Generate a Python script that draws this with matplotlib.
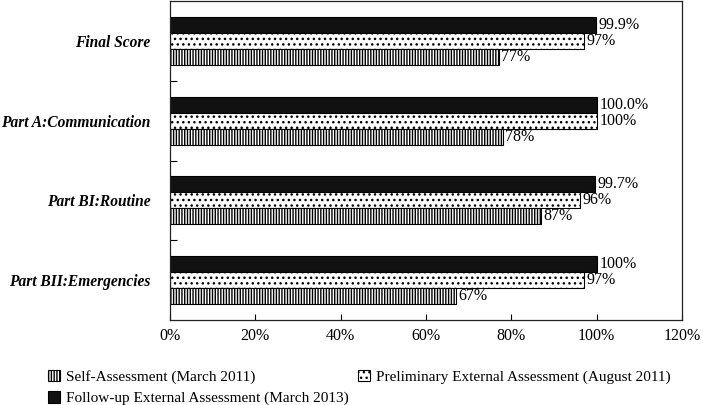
import numpy as np
import matplotlib
matplotlib.use("Agg")
import matplotlib.pyplot as plt
from matplotlib.patches import Patch

plt.rcParams['font.family'] = ['Liberation Serif', 'DejaVu Serif']
plt.rcParams['hatch.linewidth'] = 1.0

categories = ['Final Score', 'Part A:Communication', 'Part BI:Routine', 'Part BII:Emergencies']
self_vals = [77, 78, 87, 67]
prelim_vals = [97, 100, 96, 97]
follow_vals = [99.9, 100.0, 99.7, 100]
self_labels = ['77%', '78%', '87%', '67%']
prelim_labels = ['97%', '100%', '96%', '97%']
follow_labels = ['99.9%', '100.0%', '99.7%', '100%']
xticks = [0, 20, 40, 60, 80, 100, 120]

fig = plt.figure(figsize=(7.03, 4.05), dpi=100)
ax = fig.add_axes([170 / 703, 85 / 405, 512 / 703, 319 / 405])

y = np.arange(len(categories))
h = 0.2

b_follow = ax.barh(y - h, follow_vals, height=h, color='#111111', edgecolor='black', linewidth=0.8)
b_prelim = ax.barh(y, prelim_vals, height=h, color='white', edgecolor='black', hatch='...', linewidth=0.8)
b_self = ax.barh(y + h, self_vals, height=h, color='white', edgecolor='black', hatch='||||||', linewidth=0.8)

for bars, labels in [(b_follow, follow_labels), (b_prelim, prelim_labels), (b_self, self_labels)]:
    for bar, lab in zip(bars, labels):
        ax.text(bar.get_width() + 0.6, bar.get_y() + bar.get_height() / 2, lab,
                va='center', ha='left', fontsize=11.5)

ax.set_xlim(0, 120)
ax.set_ylim(len(categories) - 0.5, -0.5)
ax.set_xticks(xticks)
ax.set_xticklabels([f'{t}%' for t in xticks], fontsize=11.5)
ax.set_yticks(y)
ax.set_yticklabels(categories, fontsize=11.2, fontweight='bold', fontstyle='italic')
ax.tick_params(axis='y', which='major', length=0, pad=14)
ax.set_yticks(np.arange(0.5, len(categories) - 0.5, 1.0), minor=True)
ax.tick_params(axis='y', which='minor', direction='in', length=5, width=0.8)
ax.tick_params(axis='x', direction='in', length=4, width=0.8, pad=6)
for s in ax.spines.values():
    s.set_linewidth(0.9)
    s.set_color('#222222')

handles = [
    Patch(facecolor='white', edgecolor='black', hatch='||||||', linewidth=0.8, label='Self-Assessment (March 2011)'),
    Patch(facecolor='#111111', edgecolor='black', linewidth=0.8, label='Follow-up External Assessment (March 2013)'),
    Patch(facecolor='white', edgecolor='black', hatch='...', linewidth=0.8, label='Preliminary External Assessment (August 2011)'),
]
fig.legend(handles=handles, ncol=2, loc='upper left', bbox_to_anchor=(40 / 703, 1 - 362 / 405),
           frameon=False, fontsize=11, handlelength=0.8, handleheight=0.8, handletextpad=0.4,
           columnspacing=0.6, labelspacing=0.45, borderpad=0)

fig.savefig('out.png', dpi=100)
